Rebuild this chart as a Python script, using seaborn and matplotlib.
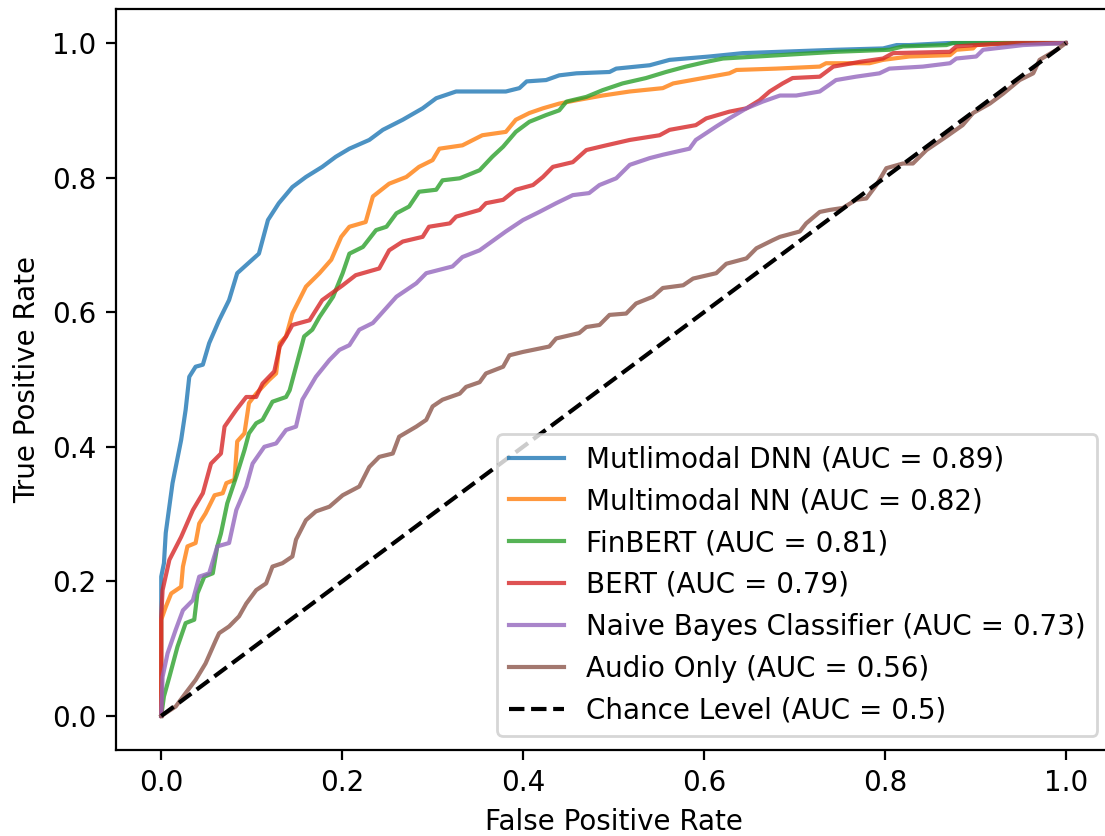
import pandas as pd
import matplotlib
matplotlib.use("Agg")
import matplotlib.pyplot as plt
import seaborn as sns

# ROC points (fpr, tpr)
dnn_fpr = [0.0, 0.0, 0.003, 0.005, 0.0125, 0.022, 0.027, 0.031, 0.038, 0.046, 0.053, 0.064, 0.075, 0.084, 0.108,
           0.118, 0.130, 0.145, 0.160, 0.178, 0.193, 0.208, 0.230, 0.245, 0.267, 0.289, 0.304, 0.326, 0.381,
           0.396, 0.404, 0.4255, 0.440, 0.459, 0.4956, 0.503, 0.540, 0.562, 0.606, 0.643, 0.684, 0.746, 0.798,
           0.813, 0.827, 0.87, 1.0]
dnn_tpr = [0.0, 0.207, 0.227, 0.272, 0.346, 0.410, 0.455, 0.504, 0.519, 0.522, 0.554, 0.588, 0.618, 0.658, 0.687,
           0.737, 0.762, 0.786, 0.801, 0.816, 0.831, 0.843, 0.856, 0.871, 0.886, 0.903, 0.918, 0.928, 0.928,
           0.933, 0.943, 0.945, 0.952, 0.955, 0.957, 0.962, 0.967, 0.975, 0.980, 0.985, 0.987, 0.990, 0.992,
           0.997, 0.997, 1.0, 1.0]

mnn_fpr = [0.0, 0.0, 0.005, 0.011, 0.022, 0.024, 0.029, 0.038, 0.042, 0.049, 0.059, 0.068, 0.072, 0.081, 0.084,
           0.092, 0.097, 0.105, 0.119, 0.127, 0.131, 0.138, 0.145, 0.160, 0.175, 0.188, 0.199, 0.208, 0.226,
           0.234, 0.252, 0.271, 0.285, 0.300, 0.3075, 0.333, 0.355, 0.381, 0.392, 0.407, 0.422, 0.440, 0.459,
           0.488, 0.518, 0.5545, 0.566, 0.599, 0.628, 0.636, 0.680, 0.728, 0.735, 0.783, 0.798, 0.827, 0.872,
           0.879, 0.8975, 0.901, 0.931, 1.0]
mnn_tpr = [0.0, 0.143, 0.162, 0.182, 0.192, 0.222, 0.252, 0.257, 0.286, 0.301, 0.328, 0.331, 0.346, 0.351, 0.408,
           0.420, 0.465, 0.479, 0.499, 0.509, 0.554, 0.564, 0.598, 0.638, 0.658, 0.678, 0.712, 0.727, 0.734,
           0.772, 0.791, 0.801, 0.816, 0.826, 0.843, 0.848, 0.863, 0.868, 0.886, 0.896, 0.903, 0.910, 0.915,
           0.922, 0.928, 0.933, 0.940, 0.948, 0.955, 0.960, 0.962, 0.965, 0.970, 0.970, 0.975, 0.980, 0.982,
           0.990, 0.992, 0.997, 1.0, 1.0]

finbert_fpr = [0.0, 0.003, 0.009, 0.018, 0.027, 0.0365, 0.040, 0.0476, 0.057, 0.062, 0.066, 0.073, 0.083, 0.092,
               0.097, 0.105, 0.112, 0.123, 0.138, 0.142, 0.149, 0.158, 0.167, 0.175, 0.190, 0.2006, 0.208, 0.223,
               0.2375, 0.249, 0.260, 0.274, 0.285, 0.304, 0.311, 0.330, 0.352, 0.366, 0.378, 0.392, 0.407,
               0.4255, 0.440, 0.448, 0.470, 0.488, 0.510, 0.536, 0.558, 0.580, 0.6025, 0.621, 0.684, 0.746,
               0.805, 0.820, 0.868, 0.875, 1.0]
finbert_tpr = [0.0, 0.029, 0.058, 0.103, 0.138, 0.143, 0.182, 0.207, 0.212, 0.252, 0.271, 0.316, 0.356, 0.395,
               0.420, 0.435, 0.440, 0.467, 0.474, 0.484, 0.519, 0.564, 0.574, 0.593, 0.623, 0.658, 0.687, 0.697,
               0.722, 0.727, 0.747, 0.757, 0.779, 0.782, 0.796, 0.799, 0.811, 0.831, 0.846, 0.868, 0.883,
               0.893, 0.900, 0.913, 0.920, 0.930, 0.940, 0.948, 0.957, 0.965, 0.972, 0.977, 0.982, 0.987,
               0.990, 0.995, 0.997, 1.0, 1.0]

bert_fpr = [0.0, 0.0, 0.0015, 0.009, 0.022, 0.035, 0.046, 0.055, 0.066, 0.070, 0.083, 0.094, 0.105, 0.112, 0.125,
            0.131, 0.138, 0.145, 0.164, 0.178, 0.2006, 0.215, 0.241, 0.252, 0.267, 0.289, 0.296, 0.319, 0.326,
            0.352, 0.359, 0.378, 0.392, 0.411, 0.422, 0.433, 0.455, 0.470, 0.492, 0.518, 0.551, 0.562, 0.591,
            0.6025, 0.628, 0.647, 0.6615, 0.6726, 0.687, 0.698, 0.728, 0.743, 0.772, 0.798, 0.809, 0.872,
            0.879, 0.901, 0.945, 1.0]
bert_tpr = [0.0, 0.148, 0.187, 0.232, 0.266, 0.306, 0.331, 0.375, 0.390, 0.430, 0.455, 0.474, 0.474, 0.494, 0.512,
            0.549, 0.564, 0.581, 0.588, 0.618, 0.640, 0.655, 0.665, 0.692, 0.705, 0.712, 0.727, 0.732, 0.742,
            0.752, 0.762, 0.767, 0.782, 0.789, 0.801, 0.816, 0.823, 0.841, 0.848, 0.856, 0.863, 0.871, 0.878,
            0.888, 0.898, 0.903, 0.915, 0.928, 0.940, 0.948, 0.950, 0.965, 0.972, 0.977, 0.985, 0.987,
            0.995, 0.997, 1.0, 1.0]

nb_fpr = [0.0, 0.0015, 0.007, 0.016, 0.024, 0.035, 0.042, 0.053, 0.062, 0.075, 0.083, 0.094, 0.101, 0.114, 0.127,
          0.138, 0.149, 0.156, 0.171, 0.186, 0.197, 0.208, 0.219, 0.234, 0.260, 0.282, 0.293, 0.322, 0.333,
          0.352, 0.381, 0.400, 0.418, 0.4366, 0.455, 0.473, 0.4845, 0.503, 0.518, 0.540, 0.5545, 0.584, 0.591,
          0.6136, 0.628, 0.647, 0.665, 0.684, 0.702, 0.728, 0.746, 0.768, 0.794, 0.805, 0.842, 0.872, 0.879,
          0.901, 0.9086, 0.953, 1.0]
nb_tpr = [0.0, 0.058, 0.093, 0.128, 0.157, 0.172, 0.207, 0.212, 0.252, 0.257, 0.306, 0.341, 0.375, 0.400, 0.405,
          0.425, 0.430, 0.470, 0.504, 0.529, 0.544, 0.551, 0.574, 0.584, 0.623, 0.643, 0.658, 0.668, 0.682,
          0.692, 0.720, 0.737, 0.749, 0.762, 0.774, 0.777, 0.789, 0.799, 0.819, 0.829, 0.834, 0.843, 0.856,
          0.876, 0.888, 0.903, 0.913, 0.922, 0.922, 0.928, 0.945, 0.950, 0.955, 0.962, 0.965, 0.970, 0.977,
          0.980, 0.990, 0.997, 1.0]

audio_fpr = [0.0, 0.016, 0.027, 0.038, 0.049, 0.0605, 0.064, 0.075, 0.086, 0.094, 0.105, 0.116, 0.123, 0.134,
             0.145, 0.149, 0.160, 0.171, 0.186, 0.2006, 0.219, 0.230, 0.241, 0.256, 0.263, 0.282, 0.293, 0.300,
             0.311, 0.330, 0.337, 0.352, 0.359, 0.378, 0.385, 0.400, 0.429, 0.4366, 0.462, 0.470, 0.4845,
             0.4956, 0.514, 0.525, 0.5435, 0.5545, 0.577, 0.588, 0.6136, 0.6247, 0.647, 0.658, 0.676, 0.684,
             0.706, 0.713, 0.728, 0.739, 0.7537, 0.768, 0.7795, 0.7906, 0.8016, 0.820, 0.831, 0.846, 0.868,
             0.886, 0.8975, 0.916, 0.931, 0.949, 0.964, 0.971, 0.990, 1.0]
audio_tpr = [0.0, 0.014, 0.034, 0.0535, 0.078, 0.113, 0.123, 0.133, 0.148, 0.167, 0.187, 0.197, 0.222, 0.227,
             0.237, 0.262, 0.291, 0.304, 0.311, 0.328, 0.341, 0.370, 0.385, 0.390, 0.415, 0.430, 0.440, 0.460,
             0.470, 0.479, 0.489, 0.496, 0.509, 0.519, 0.536, 0.541, 0.549, 0.561, 0.569, 0.578, 0.581,
             0.596, 0.598, 0.613, 0.623, 0.636, 0.640, 0.650, 0.658, 0.672, 0.680, 0.695, 0.707, 0.712,
             0.720, 0.732, 0.749, 0.752, 0.755, 0.767, 0.769, 0.789, 0.814, 0.821, 0.821, 0.841, 0.861,
             0.878, 0.896, 0.910, 0.925, 0.945, 0.955, 0.975, 0.990, 1.0]

chance_x = [0.0, 1.0]
chance_y = [0.0, 1.0]

models = ["Mutlimodal DNN", "Multimodal NN", "FinBERT", "BERT", "Naive Bayes Classifier", "Audio Only"]
aucs = [0.89, 0.82, 0.81, 0.79, 0.73, 0.56]
curves = [(dnn_fpr, dnn_tpr), (mnn_fpr, mnn_tpr), (finbert_fpr, finbert_tpr),
          (bert_fpr, bert_tpr), (nb_fpr, nb_tpr), (audio_fpr, audio_tpr)]

cores = sns.color_palette("tab10")

fig = plt.figure(figsize=(5.525, 4.18), dpi=200)
ax = fig.add_axes([116 / 1105, 86.4 / 836, 995 / 1105, 740.2 / 836])

# uma curva por modelo
for i, (nome, auc, (fpr, tpr)) in enumerate(zip(models, aucs, curves)):
    df = pd.DataFrame({"fpr": fpr, "tpr": tpr})
    sns.lineplot(data=df, x="fpr", y="tpr", ax=ax, color=cores[i], sort=False, estimator=None,
                 label=f"{nome} (AUC = {auc})", linewidth=1.5, alpha=0.8)

# linha de referencia
sns.lineplot(x=chance_x, y=chance_y, ax=ax, color="k", linestyle="--", sort=False, estimator=None,
             label="Chance Level (AUC = 0.5)", linewidth=1.5)

ax.set_xlim(-0.05, 1.05)
ax.set_ylim(-0.05, 1.05)
ax.set_xlabel("False Positive Rate")
ax.set_ylabel("True Positive Rate")
ax.legend(loc="lower right")

fig.savefig("out.png", dpi=200)
